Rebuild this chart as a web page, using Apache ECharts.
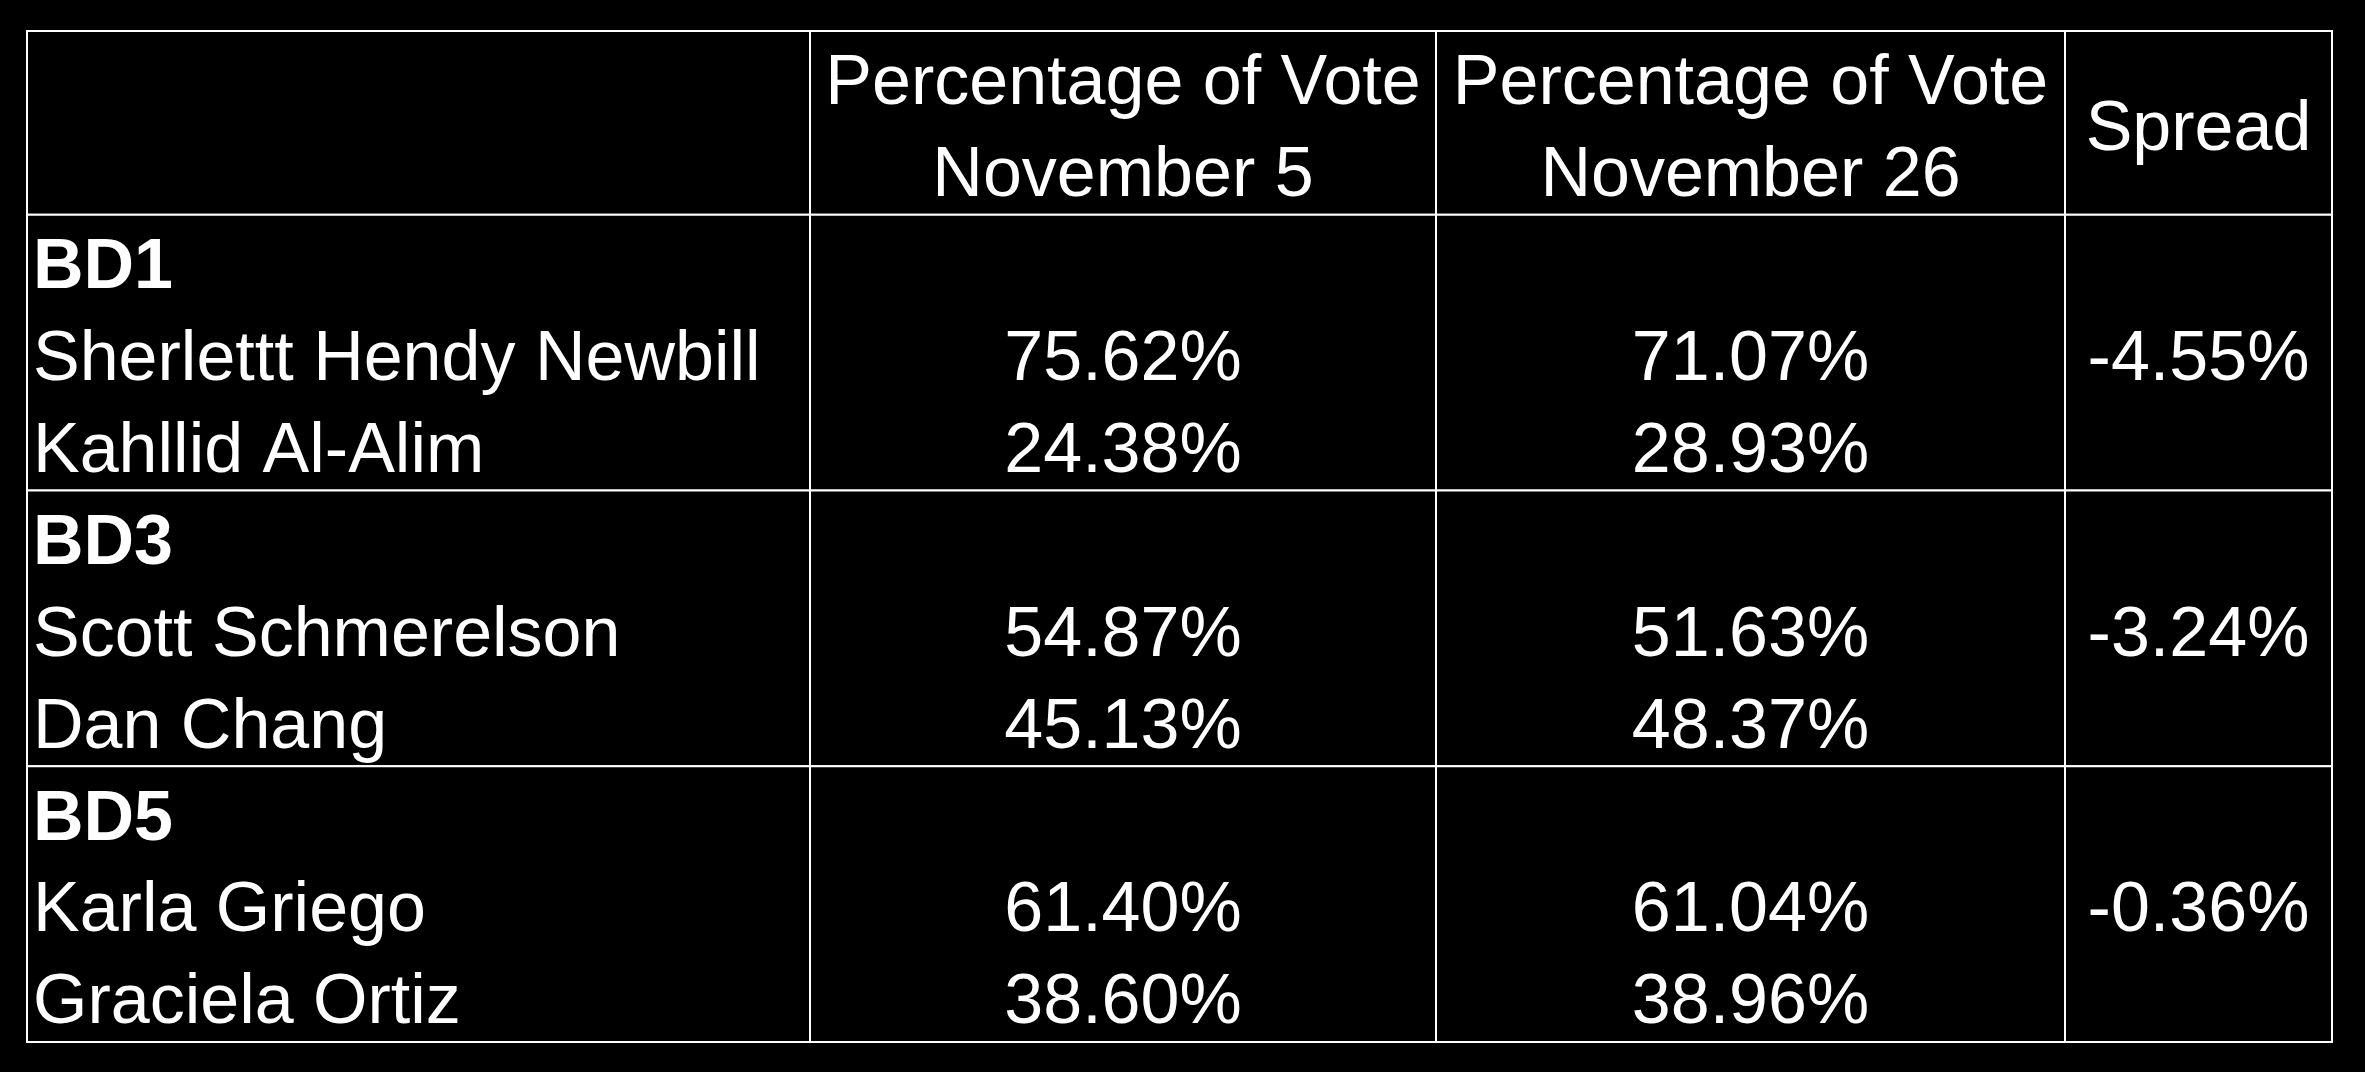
<!DOCTYPE html>
<html>
<head>
<meta charset="utf-8">
<script src="https://cdn.jsdelivr.net/npm/echarts@6/dist/echarts.min.js"></script>
<style>
html,body{margin:0;padding:0;background:#000;}
#chart{width:2365px;height:1072px;}
</style>
</head>
<body>
<div id="chart"></div>
<script>
// ---- data ----
const headerLine1 = ['', 'Percentage of Vote', 'Percentage of Vote', 'Spread'];
const headerLine2 = ['', 'November 5', 'November 26', ''];
const districts = ['BD1', 'BD3', 'BD5'];
const candidatesA = ['Sherlettt Hendy Newbill', 'Scott Schmerelson', 'Karla Griego'];
const candidatesB = ['Kahllid Al-Alim', 'Dan Chang', 'Graciela Ortiz'];
const nov5A = [75.62, 54.87, 61.40];
const nov5B = [24.38, 45.13, 38.60];
const nov26A = [71.07, 51.63, 61.04];
const nov26B = [28.93, 48.37, 38.96];
const spread = [-4.55, -3.24, -0.36];

// ---- layout ----
const colEdges = [0, 783, 1409, 2038, 2305];
const FONT = '"Liberation Sans", Arial, sans-serif';
const FS = 70;
const pct = v => v.toFixed(2) + '%';

const cells = [];
// header
cells.push({col: 0, r0: 0, r1: 2, texts: []});
[1, 2].forEach(c => cells.push({col: c, r0: 0, r1: 2, texts: [
  {t: headerLine1[c], row: 0}, {t: headerLine2[c], row: 1}
]}));
cells.push({col: 3, r0: 0, r1: 2, texts: [{t: headerLine1[3], row: 0.5}]});
// groups
districts.forEach((d, i) => {
  const r0 = 2 + i * 3, r1 = r0 + 3;
  cells.push({col: 0, r0, r1, texts: [
    {t: d, row: 0, bold: true, left: true},
    {t: candidatesA[i], row: 1, left: true},
    {t: candidatesB[i], row: 2, left: true}
  ]});
  cells.push({col: 1, r0, r1, texts: [{t: pct(nov5A[i]), row: 1}, {t: pct(nov5B[i]), row: 2}]});
  cells.push({col: 2, r0, r1, texts: [{t: pct(nov26A[i]), row: 1}, {t: pct(nov26B[i]), row: 2}]});
  cells.push({col: 3, r0, r1, texts: [{t: pct(spread[i]), row: 1}]});
});

function renderItem(params, api) {
  const c = cells[params.dataIndex];
  const col = api.value(0), r0 = api.value(1), r1 = api.value(2);
  const p0 = api.coord([colEdges[col], r0]);
  const p1 = api.coord([colEdges[col + 1], r1]);
  const children = [{
    type: 'rect',
    shape: {x: p0[0], y: p0[1], width: p1[0] - p0[0], height: p1[1] - p0[1]},
    style: {fill: '#000', stroke: '#ffffff', lineWidth: 2}
  }];
  c.texts.forEach(t => {
    const y = api.coord([0, r0 + t.row + 0.5])[1];
    const x = t.left ? p0[0] + 6 : (p0[0] + p1[0]) / 2;
    children.push({
      type: 'text',
      style: {
        text: t.t, x: x, y: y + 8, fill: '#ffffff',
        fontSize: FS, fontFamily: FONT, fontWeight: t.bold ? 'bold' : 'normal',
        align: t.left ? 'left' : 'center', verticalAlign: 'middle'
      }
    });
  });
  return {type: 'group', children};
}

const chart = echarts.init(document.getElementById('chart'));
chart.setOption({
  backgroundColor: '#000',
  animation: false,
  grid: {left: 27, right: 33, top: 31, bottom: 30},
  xAxis: {type: 'value', min: 0, max: 2305, show: false},
  yAxis: {type: 'value', min: 0, max: 11, inverse: true, show: false},
  series: [{
    type: 'custom',
    renderItem: renderItem,
    clip: false,
    data: cells.map(c => [c.col, c.r0, c.r1])
  }]
});
</script>
</body>
</html>
